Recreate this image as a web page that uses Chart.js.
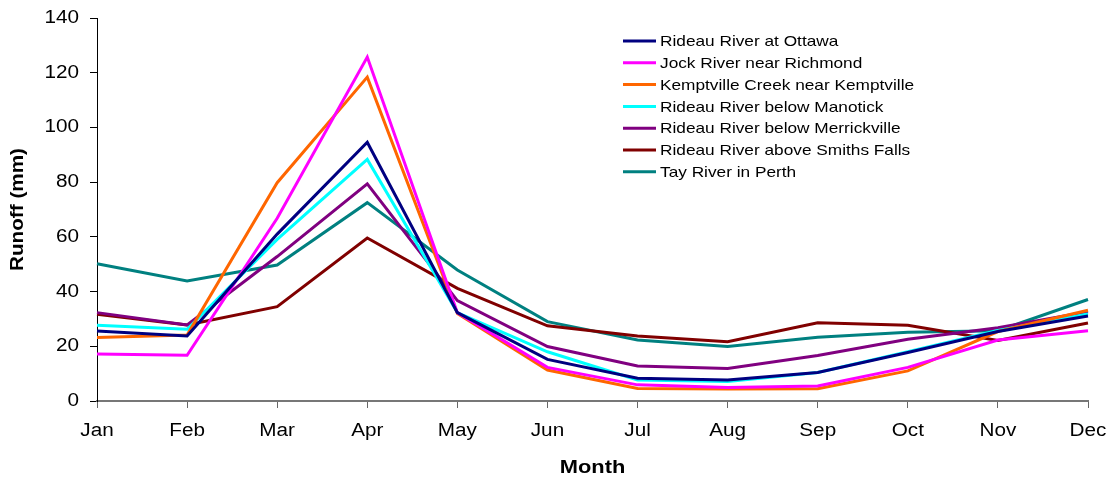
<!DOCTYPE html>
<html>
<head>
<meta charset="utf-8">
<script src="https://cdn.jsdelivr.net/npm/chart.js@4.4.1/dist/chart.umd.min.js"></script>
<style>
  html, body { margin:0; padding:0; background:#fff; }
  #wrap { width:1115px; height:483px; }
</style>
</head>
<body>
<div id="wrap"><canvas id="runoff"></canvas></div>
<script>
const months = ['Jan','Feb','Mar','Apr','May','Jun','Jul','Aug','Sep','Oct','Nov','Dec'];

const rideauOttawa     = [25.6, 23.8, 61.0, 94.6, 32.3, 15.2, 8.3, 7.7, 10.4, 17.7, 25.4, 31.1];
const jockRichmond     = [17.2, 16.7, 66.8, 125.7, 32.3, 12.3, 5.9, 4.9, 5.5, 12.3, 22.3, 25.7];
const kemptvilleCreek  = [23.2, 24.1, 79.8, 118.4, 32.0, 11.3, 4.6, 4.4, 4.5, 11.0, 25.4, 33.2];
const rideauManotick   = [27.7, 26.2, 59.1, 88.3, 32.3, 18.0, 7.7, 7.1, 10.4, 18.0, 25.8, 31.8];
const rideauMerrick    = [32.3, 27.8, 52.8, 79.4, 36.7, 19.9, 12.8, 11.9, 16.6, 22.6, 26.8, 32.6];
const rideauSmiths     = [31.7, 27.8, 34.5, 59.6, 41.2, 27.5, 23.8, 21.7, 28.6, 27.7, 22.1, 28.5];
const tayPerth         = [50.2, 43.9, 49.7, 72.5, 47.9, 29.0, 22.3, 19.9, 23.3, 25.1, 25.7, 37.1];

const seriesNames = [
  'Rideau River at Ottawa',
  'Jock River near Richmond',
  'Kemptville Creek near Kemptville',
  'Rideau River below Manotick',
  'Rideau River below Merrickville',
  'Rideau River above Smiths Falls',
  'Tay River in Perth'
];
const seriesData = [rideauOttawa, jockRichmond, kemptvilleCreek, rideauManotick, rideauMerrick, rideauSmiths, tayPerth];
const seriesColors = ['#000080','#FF00FF','#FF6600','#00FFFF','#800080','#800000','#008080'];

const yTicks = [0, 20, 40, 60, 80, 100, 120, 140];

const FONT = 'Liberation Sans, Arial, sans-serif';
const STRETCH = 1.15; // the original text is drawn a bit wide

// widen every piece of text along its own direction
const wideText = {
  id: 'wideText',
  beforeInit(chart) {
    const plain = CanvasRenderingContext2D.prototype.fillText;
    chart.ctx.fillText = function (text, x, y) {
      this.save();
      this.translate(x, y);
      this.scale(STRETCH, 1);
      plain.call(this, text, 0, 0);
      this.restore();
    };
  }
};

// legend drawn inside the plot area, like the original
const insideLegend = {
  id: 'insideLegend',
  afterDraw(chart) {
    const ctx = chart.ctx;
    const x0 = 623, x1 = 656, tx = 660, y0 = 41, step = 21.8;
    ctx.save();
    ctx.font = '15px ' + FONT;
    ctx.textBaseline = 'middle';
    ctx.textAlign = 'left';
    chart.data.datasets.forEach((ds, i) => {
      const y = y0 + i * step;
      ctx.strokeStyle = ds.borderColor;
      ctx.lineWidth = 3;
      ctx.beginPath();
      ctx.moveTo(x0, y);
      ctx.lineTo(x1, y);
      ctx.stroke();
      ctx.fillStyle = '#000';
      ctx.fillText(ds.label, tx, y + 1);
    });
    ctx.restore();
  }
};

new Chart(document.getElementById('runoff'), {
  type: 'line',
  data: {
    labels: months,
    datasets: seriesNames.map((name, i) => ({
      label: name,
      data: seriesData[i],
      borderColor: seriesColors[i],
      backgroundColor: seriesColors[i],
      borderWidth: 3,
      pointRadius: 0,
      tension: 0,
      fill: false
    }))
  },
  options: {
    responsive: true,
    maintainAspectRatio: false,
    animation: false,
    layout: { padding: { top: 18, right: 27, bottom: 4, left: 0 } },
    plugins: { legend: { display: false }, tooltip: { enabled: false } },
    scales: {
      x: {
        offset: false,
        grid: { drawOnChartArea: false, drawTicks: true, tickLength: 7, color: '#666' },
        border: { color: '#777', width: 2 },
        ticks: { color: '#000', padding: 12, autoSkip: false, maxRotation: 0, font: { family: FONT, size: 18 } },
        title: { display: true, text: 'Month', color: '#000', font: { family: FONT, size: 19, weight: 'bold' }, padding: { top: 0, bottom: 0 } },
        afterFit(scale) { scale.height = 78; scale.paddingLeft = 0; scale.paddingRight = 0; }
      },
      y: {
        min: 0, max: 140,
        afterBuildTicks(scale) { scale.ticks = yTicks.map(v => ({ value: v })); },
        grid: { drawOnChartArea: false, drawTicks: true, tickLength: 7, color: '#000' },
        border: { color: '#000', width: 1 },
        ticks: { color: '#000', padding: 11, font: { family: FONT, size: 18 } },
        title: { display: true, text: 'Runoff (mm)', color: '#000', font: { family: FONT, size: 18, weight: 'bold' }, padding: { top: 7, bottom: 0 } },
        afterFit(scale) { scale.width = 97; scale.paddingTop = 0; scale.paddingBottom = 0; }
      }
    }
  },
  plugins: [wideText, insideLegend]
});
</script>
</body>
</html>
